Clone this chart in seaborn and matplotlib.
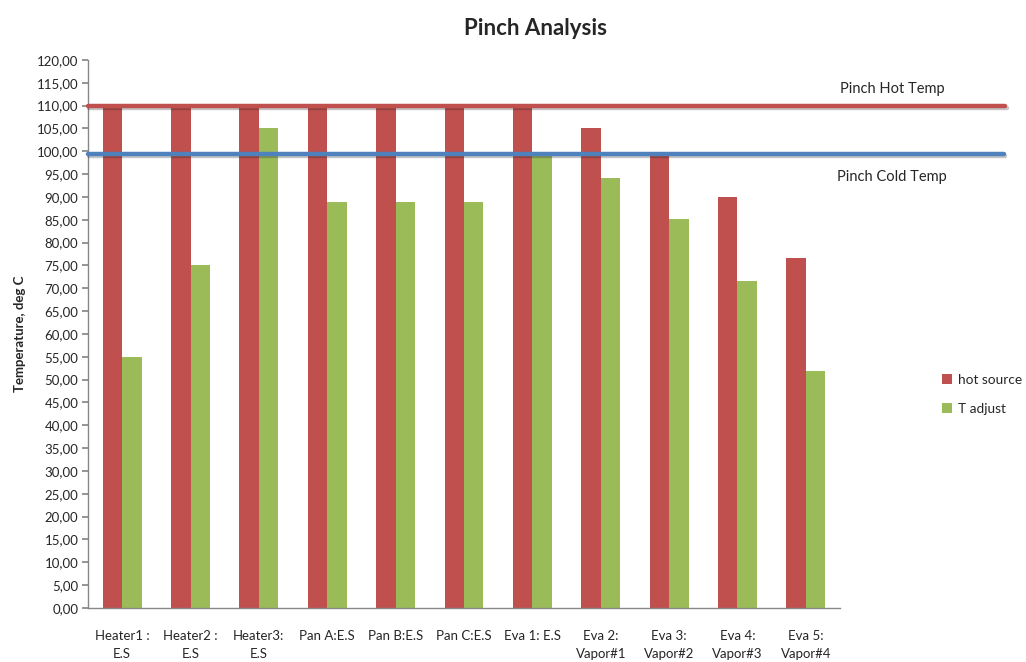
import matplotlib
matplotlib.use("Agg")
import matplotlib.pyplot as plt
import matplotlib.transforms as mtransforms
import matplotlib.patheffects as pe
import pandas as pd
import seaborn as sns

categories = ["Heater1 :\nE.S", "Heater2 :\nE.S", "Heater3:\nE.S", "Pan A:E.S", "Pan B:E.S",
              "Pan C:E.S", "Eva 1: E.S", "Eva 2:\nVapor#1", "Eva 3:\nVapor#2",
              "Eva 4:\nVapor#3", "Eva 5:\nVapor#4"]
hot_source = [110, 110, 110, 110, 110, 110, 110, 105, 99, 90, 76.7]
t_adjust = [55, 75, 105, 89, 89, 89, 99.2, 94.2, 85.1, 71.7, 52]
pinch_hot = 110
pinch_cold = 99.5

HOT_C = "#C0504D"
ADJ_C = "#9BBB59"
COLD_LINE = "#4F81BD"

df = pd.DataFrame({
    "category": categories * 2,
    "series": ["hot source"] * len(categories) + ["T adjust"] * len(categories),
    "value": hot_source + t_adjust,
})

sns.set_theme(style="white")
plt.rcParams["font.family"] = ["Lato", "DejaVu Sans"]

fig = plt.figure(figsize=(10.26, 6.62), dpi=100)
ax = fig.add_axes([0.0858, 0.0816, 0.7329, 0.8278])

sns.barplot(data=df, x="category", y="value", hue="series", order=categories,
            palette={"hot source": HOT_C, "T adjust": ADJ_C}, width=0.57, gap=0,
            saturation=1, edgecolor="none", ax=ax)

ax.set_ylim(0, 120)
ax.set_xlim(-0.5, len(categories) - 0.5)
ax.set_yticks(range(0, 121, 5))
ax.set_yticklabels([f"{v},00" for v in range(0, 121, 5)], fontsize=9.5)
ax.tick_params(axis="y", which="major", left=True, length=4, color="#888888", pad=3)
ax.tick_params(axis="x", labelsize=9.5, pad=10)
for lbl in ax.get_xticklabels():
    lbl.set_linespacing(1.6)
for s in ["top", "right"]:
    ax.spines[s].set_visible(False)
for s in ["left", "bottom"]:
    ax.spines[s].set_color("#888888")
    ax.spines[s].set_linewidth(1)

ax.set_xlabel("")
ax.set_ylabel("Temperature, deg C", fontsize=9.5, fontweight="bold", labelpad=8)
ax.set_title("Pinch Analysis", fontsize=16, fontweight="bold", x=0.595, pad=18)

# pinch lines (extend past plot area like drawn shapes)
trans = mtransforms.blended_transform_factory(ax.transAxes, ax.transData)
shadow = [pe.SimpleLineShadow(offset=(1, -1.5), alpha=0.25), pe.Normal()]
ax.plot([0, 1.22], [pinch_hot, pinch_hot], color=HOT_C, lw=3.2, transform=trans,
        clip_on=False, path_effects=shadow, zorder=5)
ax.plot([0, 1.218], [pinch_cold, pinch_cold], color=COLD_LINE, lw=3.2, transform=trans,
        clip_on=False, path_effects=shadow, zorder=5)
ax.text(1.0, 113.6, "Pinch Hot Temp", transform=trans, fontsize=10.5,
        ha="left", va="center")
ax.text(0.996, 94.4, "Pinch Cold Temp", transform=trans, fontsize=10.5,
        ha="left", va="center")

leg = ax.legend(loc="center left", bbox_to_anchor=(1.136, 0.39), frameon=False,
                fontsize=9.8, handlelength=0.7, handleheight=0.7, handletextpad=0.45,
                labelspacing=1.25, borderpad=0, borderaxespad=0)

fig.savefig("out.png", dpi=100)
